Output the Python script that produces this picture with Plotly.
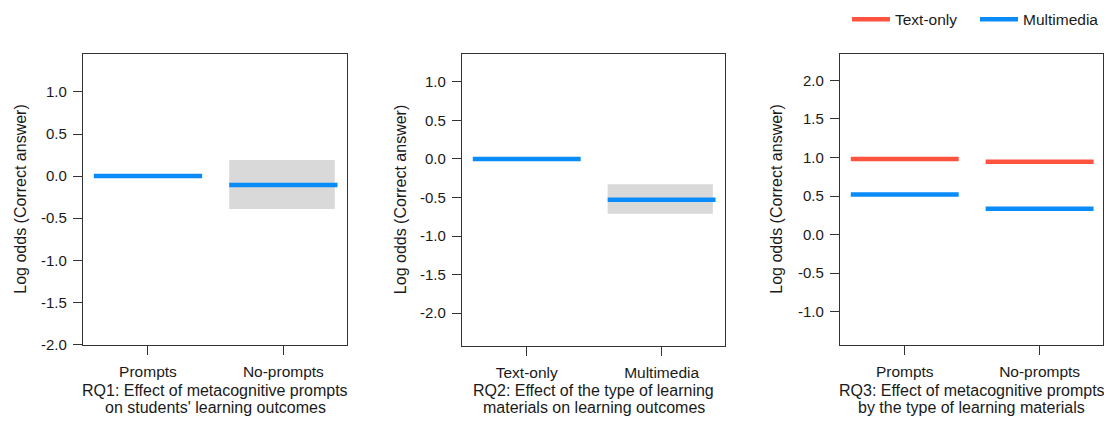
import plotly.graph_objects as go

W, H = 1104, 427

# ---------------- data ----------------
rq1_categories = ["Prompts", "No-prompts"]
rq1_estimate = [0.0, -0.105]
rq1_lower = [None, -0.39]
rq1_upper = [None, 0.19]

rq2_categories = ["Text-only", "Multimedia"]
rq2_estimate = [0.0, -0.53]
rq2_lower = [None, -0.71]
rq2_upper = [None, -0.33]

rq3_categories = ["Prompts", "No-prompts"]
rq3_text_only = [0.98, 0.945]
rq3_multimedia = [0.52, 0.336]

rq1_ticks = [-2.0, -1.5, -1.0, -0.5, 0.0, 0.5, 1.0]
rq2_ticks = [-2.0, -1.5, -1.0, -0.5, 0.0, 0.5, 1.0]
rq3_ticks = [-1.0, -0.5, 0.0, 0.5, 1.0, 1.5, 2.0]

panel_titles = [
    ["RQ1: Effect of metacognitive prompts", "on students' learning outcomes"],
    ["RQ2: Effect of the type of learning", "materials on learning outcomes"],
    ["RQ3: Effect of metacognitive prompts", "by the type of learning materials"],
]
y_title = "Log odds (Correct answer)"

# ---------------- style ----------------
RED = "#FF5340"
BLUE = "#0A8BFA"
BAND = "#D9D9D9"
TXT = "#1A1A1A"
AX = "#333333"
FONT = "Liberation Sans"
HALF = 0.4

def px_x(p):
    return p / W

def px_y(p):
    return 1 - p / H

boxes = [(83, 347, 55, 351), (462, 725, 55, 352), (840, 1103, 55, 351)]
yranges = [[-2.01, 1.45], [-2.43, 1.36], [-1.435, 2.34]]
ytick_sets = [rq1_ticks, rq2_ticks, rq3_ticks]
cat_sets = [rq1_categories, rq2_categories, rq3_categories]
ytitle_x = [21, 400, 777]

fig = go.Figure()

def seg(c, v, color, xa, ya, name=None, show=False, group=None):
    fig.add_trace(go.Scatter(
        x=[c - HALF, c + HALF], y=[v, v], mode="lines",
        line=dict(color=color, width=4.5), xaxis=xa, yaxis=ya,
        name=name, showlegend=show, legendgroup=group, hoverinfo="skip"))

def band(c, lo, hi, xa, ya):
    fig.add_trace(go.Scatter(
        x=[c - HALF, c + HALF - 0.02, c + HALF - 0.02, c - HALF, c - HALF],
        y=[lo, lo, hi, hi, lo], mode="lines", fill="toself",
        fillcolor=BAND, line=dict(width=0, color=BAND),
        xaxis=xa, yaxis=ya, showlegend=False, hoverinfo="skip"))

for i, (e, lo, hi) in enumerate(zip(rq1_estimate, rq1_lower, rq1_upper)):
    if lo is not None:
        band(i + 1, lo, hi, "x", "y")
for i, e in enumerate(rq1_estimate):
    seg(i + 1, e, BLUE, "x", "y")

for i, (e, lo, hi) in enumerate(zip(rq2_estimate, rq2_lower, rq2_upper)):
    if lo is not None:
        band(i + 1, lo, hi, "x2", "y2")
for i, e in enumerate(rq2_estimate):
    seg(i + 1, e, BLUE, "x2", "y2")

for i, v in enumerate(rq3_text_only):
    seg(i + 1, v, RED, "x3", "y3", name="Text-only", show=(i == 0), group="t")
for i, v in enumerate(rq3_multimedia):
    seg(i + 1, v, BLUE, "x3", "y3", name="Multimedia", show=(i == 0), group="m")

layout = dict(
    width=W, height=H, margin=dict(l=0, r=0, t=0, b=0),
    paper_bgcolor="white", plot_bgcolor="white",
    font=dict(family=FONT, color=TXT, size=15),
    showlegend=True,
    legend=dict(orientation="h", x=px_x(847), y=px_y(20), xanchor="left",
                yanchor="middle", font=dict(size=15.5, color=TXT),
                bgcolor="rgba(0,0,0,0)", itemwidth=38, entrywidth=75,
                tracegroupgap=0),
)

annotations = []
for k in range(3):
    l, r, t, b = boxes[k]
    sx = "" if k == 0 else str(k + 1)
    layout["xaxis" + sx] = dict(
        domain=[px_x(l), px_x(r)], range=[0.52, 2.47],
        anchor="y" + sx, tickvals=[1, 2], ticktext=cat_sets[k],
        ticks="outside", ticklen=9, tickwidth=1.2, tickcolor=AX,
        showline=True, linecolor=AX, linewidth=1.4, mirror=True,
        showgrid=False, zeroline=False, ticklabelstandoff=3,
        tickfont=dict(size=15.5, color=TXT), fixedrange=True)
    layout["yaxis" + sx] = dict(
        domain=[px_y(b), px_y(t)], range=yranges[k],
        anchor="x" + sx, tickvals=ytick_sets[k],
        ticktext=["%.1f" % v for v in ytick_sets[k]],
        ticks="outside", ticklen=9, tickwidth=1.2, tickcolor=AX,
        showline=True, linecolor=AX, linewidth=1.4, mirror=True,
        showgrid=False, zeroline=False, ticklabelstandoff=3,
        tickfont=dict(size=15, color=TXT), fixedrange=True)
    cx = (l + r) / 2
    for j, line in enumerate(panel_titles[k]):
        annotations.append(dict(
            text=line, xref="paper", yref="paper", x=px_x(cx),
            y=px_y(397 + 17.7 * j), xanchor="center", yanchor="middle",
            showarrow=False, font=dict(size=16, color=TXT)))
    annotations.append(dict(
        text=y_title, xref="paper", yref="paper", x=px_x(ytitle_x[k]),
        y=px_y((t + b) / 2), xanchor="center", yanchor="middle",
        textangle=-90, showarrow=False, font=dict(size=16, color=TXT)))

layout["annotations"] = annotations
fig.update_layout(**layout)
css = ("document.documentElement.style.margin='0';document.documentElement.style.padding='0';"
       "document.documentElement.style.overflow='hidden';"
       "document.body.style.margin='0';document.body.style.padding='0';"
       "document.body.style.overflow='hidden';document.body.style.height='427px';")
fig.write_html("out.html", config={"displayModeBar": False}, post_script=css)
